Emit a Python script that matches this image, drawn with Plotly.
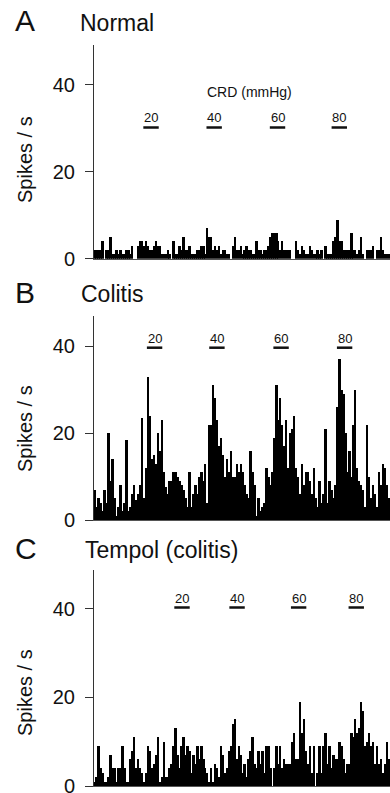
import plotly.graph_objects as go

# ---------------- data (spikes / s per time bin) ----------------
normal_rate = [2,2,2,2,4,0,2,2,5,1,1,2,1,2,1,1,2,2,1,3,0,0,3,4,4,3,4,3,2,2,
               3,4,3,3,1,1,1,2,1,0,4,1,1,3,2,5,2,2,3,1,1,1,2,2,3,3,1,7,5,5,
               2,3,2,3,1,2,2,1,1,0,3,5,2,2,
               3,1,2,3,2,2,1,1,4,2,2,1,2,2,3,5,6,6,6,4,2,4,2,2,2,2,0,0,4,2,
               1,3,2,1,1,3,2,1,1,2,1,2,0,3,1,1,1,4,5,9,4,4,2,2,2,2,6,2,2,1,
               2,5,1,0,2,2,2,3,0,2,2,5,2,1,1,1]

colitis_rate = [7,3,5,4,2,7,4,20,9,14,5,1,3,8,2,4,18.5,2,3,6,8,4.6,6,8,23.5,5,12,33,24,14,
                15,13,20,15.8,23,11,7.7,6,9,9,11,11,10,9,8,7,5,3,11,3,6,8,6,10,11,9,13,4,22,22,
                31,28,23,17,19,15,10,14,11,16,10,10,13,11,
                13,11,8,6,5,16,11,8,1,5,2,3,4,12,10,8,11,19,31,23,28,22,17,23,12,20,21,24,12,10,
                6,13,8,11,11,9,6,12,5,3,9,4,6,21,4,9,7,5,8,26,37,30,29,20,11,16,10,22,30,12,
                9,8,7,3,22,10,5,8,6,3,11,8,13,12,8,5]

tempol_rate = [1,2,9,4,3,1,1,2,7,4,4,1,4,4,9,4,1,1,6,8,11,4,6,4,3,1,3,9,8,4,
               5,7,11,1,2,10,2,2,4,5,9,13,7,4,9,11,7,9,8,3,7,5,9,6,9,6,4,3,1,4,
               1,5,4,2,9,7,3,4,8,9,14,15,6,9,
               7,3,5,2,6,8,11,5,4,8,5,8,3,9,9,4,0,4,9,5,9,4,6,5,5,5,10,12,6,6,
               19,12,15,8,5,9,3,9,0,3,9,3,9,12,5,9,4,7,6,6,10,9,6,3,5,5,12,11,15,12,
               13,19,17,9,10,12,9,10,5,9,5,6,3,5,10,6]

panel_letters = ["A", "B", "C"]
panel_titles = ["Normal", "Colitis", "Tempol (colitis)"]
crd_labels = ["20", "40", "60", "80"]
y_ticks = [0, 20, 40]
y_title = "Spikes / s"
crd_title = "CRD (mmHg)"

# ---------------- layout helpers ----------------
W, H = 390, 793
FONT = "Liberation Sans, Arial, Helvetica, sans-serif"


def py(px):
    return 1 - px / H


def pxx(px):
    return px / W


series = [normal_rate, colitis_rate, tempol_rate]
# (top px, baseline px, y max)
panels = [(45, 258.7, 49.1), (316, 520, 47.0), (570, 786, 48.7)]
crd_pos = [[28.4, 60.4, 92.5, 123.8],
           [30.2, 61.8, 94.3, 126.5],
           [44.1, 72.0, 103.2, 132.4]]
crd_label_y = [118, 338.5, 598.5]
crd_bar_y = [127.5, 347.7, 607.5]
letter_y = [21, 292.5, 548.5]
title_y = [23.5, 294, 550]
title_x = [78, 79, 83]
ytitle_y = [159, 428, 692]

fig = go.Figure()
annotations = []
shapes = []

for k, vals in enumerate(series):
    top, base, ymax = panels[k]
    sfx = "" if k == 0 else str(k + 1)
    fig.add_trace(go.Bar(
        x=list(range(len(vals))), y=vals,
        marker=dict(color="black", line=dict(width=0)),
        xaxis="x" + sfx, yaxis="y" + sfx, showlegend=False,
        hoverinfo="skip"))
    fig.update_layout(**{
        "xaxis" + sfx: dict(domain=[pxx(94), 1], range=[-0.5, 149.5],
                            showgrid=False, zeroline=False, showticklabels=False,
                            ticks="", showline=True, linecolor="#555", linewidth=1,
                            anchor="y" + sfx, fixedrange=True, automargin=False),
        "yaxis" + sfx: dict(domain=[py(base), py(top)], range=[0, ymax],
                            tickvals=y_ticks, ticks="outside", ticklen=8,
                            tickcolor="#333", tickwidth=1,
                            showline=True, linecolor="#333", linewidth=1,
                            showgrid=False, zeroline=False,
                            tickfont=dict(family=FONT, size=20, color="#111"),
                            ticklabelstandoff=6, automargin=False,
                            ticklabeloverflow="allow",
                            anchor="x" + sfx, fixedrange=True),
    })
    # panel letter and title
    annotations.append(dict(text=panel_letters[k], x=pxx(13), y=py(letter_y[k]),
                            xref="paper", yref="paper", xanchor="left", yanchor="middle",
                            showarrow=False, font=dict(family=FONT, size=30, color="#111")))
    annotations.append(dict(text=panel_titles[k], x=pxx(title_x[k]), y=py(title_y[k]),
                            xref="paper", yref="paper", xanchor="left", yanchor="middle",
                            showarrow=False, font=dict(family=FONT, size=23, color="#111")))
    annotations.append(dict(text=y_title, x=pxx(25), y=py(ytitle_y[k]), textangle=-90,
                            xref="paper", yref="paper", xanchor="center", yanchor="middle",
                            showarrow=False, font=dict(family=FONT, size=20, color="#111")))
    # CRD markers
    for lab, pos in zip(crd_labels, crd_pos[k]):
        annotations.append(dict(text=lab, x=pos, y=py(crd_label_y[k]),
                                xref="x" + sfx, yref="paper", xanchor="center",
                                yanchor="middle", showarrow=False,
                                font=dict(family=FONT, size=13, color="#111")))
        shapes.append(dict(type="line", xref="x" + sfx, yref="paper",
                           x0=pos - 3.9, x1=pos + 3.9,
                           y0=py(crd_bar_y[k]), y1=py(crd_bar_y[k]),
                           line=dict(color="#111", width=2.5)))

annotations.append(dict(text=crd_title, x=pxx(249.5), y=py(91.7),
                        xref="paper", yref="paper", xanchor="center", yanchor="middle",
                        showarrow=False, font=dict(family=FONT, size=14, color="#111")))

fig.update_layout(width=W, height=H, margin=dict(l=0, r=0, t=0, b=0, autoexpand=False),
                  paper_bgcolor="white", plot_bgcolor="white",
                  bargap=0, annotations=annotations, shapes=shapes,
                  font=dict(family=FONT))

fig.write_html("out.html", config={"displayModeBar": False},
               post_script="document.body.style.margin='0';"
                           "document.body.style.overflow='hidden';")
